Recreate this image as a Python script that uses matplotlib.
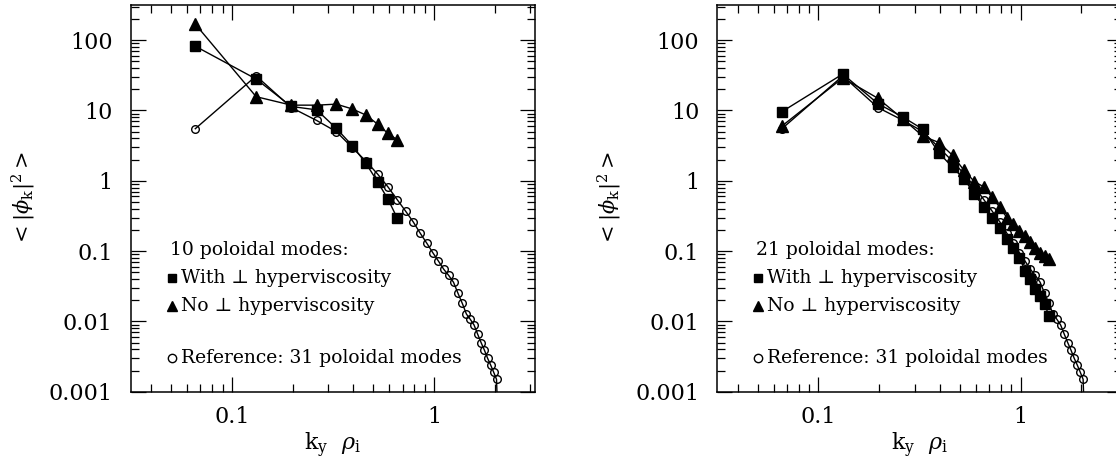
import matplotlib
matplotlib.use("Agg")
import matplotlib.pyplot as plt
from matplotlib.ticker import FixedLocator, FixedFormatter, LogLocator, NullFormatter

plt.rcParams["font.family"] = ["DejaVu Serif", "DejaVu Sans"]
plt.rcParams["mathtext.fontset"] = "dejavuserif"

# Poloidal wavenumbers k_y rho_i (mode numbers 1..32; the last one falls below the axis)
ky = [0.066, 0.132, 0.197, 0.263, 0.329, 0.395, 0.461, 0.526, 0.592, 0.658,
      0.724, 0.790, 0.855, 0.921, 0.987, 1.053, 1.119, 1.184, 1.250, 1.316,
      1.382, 1.448, 1.513, 1.579, 1.645, 1.711, 1.777, 1.842, 1.908, 1.974,
      2.040, 2.106]

# Reference run: 31 poloidal modes
phi_ref = [5.5, 31.0, 11.0, 7.2, 5.0, 2.95, 1.9, 1.25, 0.82, 0.54,
           0.37, 0.26, 0.18, 0.13, 0.095, 0.072, 0.055, 0.045, 0.036, 0.025,
           0.018, 0.0127, 0.0107, 0.0089, 0.0066, 0.0050, 0.0039, 0.0030, 0.0024, 0.0019,
           0.0015, 0.0001]

# 10 poloidal modes
phi10_hyper = [82.0, 28.0, 11.4, 10.2, 5.56, 3.15, 1.77, 0.97, 0.55, 0.295]
phi10_nohyper = [169.0, 15.7, 11.9, 11.9, 12.3, 10.5, 8.6, 6.4, 4.72, 3.83]

# 21 poloidal modes
phi21_hyper = [9.6, 33.0, 12.5, 8.0, 5.4, 2.5, 1.55, 1.06, 0.65, 0.42,
               0.30, 0.21, 0.15, 0.109, 0.081, 0.0525, 0.040, 0.029, 0.023, 0.0176,
               0.012]
phi21_nohyper = [6.0, 29.0, 14.9, 7.5, 4.3, 3.5, 2.3, 1.4, 0.97, 0.82,
                 0.58, 0.42, 0.30, 0.242, 0.194, 0.162, 0.133, 0.109, 0.094, 0.086,
                 0.077]

ytick_vals = [0.001, 0.01, 0.1, 1, 10, 100]
ytick_labels = ["0.001", "0.01", "0.1", "1", "10", "100"]
xtick_vals = [0.1, 1]
xtick_labels = ["0.1", "1"]

panels = [
    ("10 poloidal modes:", phi10_hyper, phi10_nohyper),
    ("21 poloidal modes:", phi21_hyper, phi21_nohyper),
]

W, H = 1116, 465
fig = plt.figure(figsize=(W / 100, H / 100), dpi=100)

ax_w = 404.3 / W
ax_h = 386.7 / H
ax_y0 = (H - 391.7) / H
lefts = [130.7 / W, 717.3 / W]

for (title, hyper, nohyper), x0 in zip(panels, lefts):
    ax = fig.add_axes([x0, ax_y0, ax_w, ax_h])
    ax.set_xscale("log")
    ax.set_yscale("log")
    ax.set_xlim(10 ** -1.5, 10 ** 0.5)
    ax.set_ylim(1e-3, 10 ** 2.5)

    n = len(hyper)
    ax.plot(ky, phi_ref, color="black", lw=1.0, marker="o", ms=5.5,
            mfc="none", mec="black", mew=1.0, zorder=2)
    ax.plot(ky[:n], nohyper, color="black", lw=1.0, marker="^", ms=8.0,
            mfc="black", mec="black", zorder=3)
    ax.plot(ky[:n], hyper, color="black", lw=1.0, marker="s", ms=7.0,
            mfc="black", mec="black", zorder=4)

    ax.xaxis.set_major_locator(FixedLocator(xtick_vals))
    ax.xaxis.set_major_formatter(FixedFormatter(xtick_labels))
    ax.xaxis.set_minor_locator(LogLocator(base=10, subs=range(2, 10)))
    ax.xaxis.set_minor_formatter(NullFormatter())
    ax.yaxis.set_major_locator(FixedLocator(ytick_vals))
    ax.yaxis.set_major_formatter(FixedFormatter(ytick_labels))
    ax.yaxis.set_minor_locator(LogLocator(base=10, subs=range(2, 10)))
    ax.yaxis.set_minor_formatter(NullFormatter())

    ax.tick_params(which="both", direction="in", top=True, right=True,
                   width=0.9, colors="black", labelsize=16)
    ax.tick_params(which="major", length=10.5)
    ax.tick_params(which="minor", length=5.5)
    ax.tick_params(axis="y", which="major", pad=13)
    ax.tick_params(axis="x", which="major", pad=10)
    for sp in ax.spines.values():
        sp.set_linewidth(1.1)

    ax.set_xlabel(r"$\mathrm{k_y}\ \ \rho_{\mathrm{i}}$", fontsize=16)
    ax.xaxis.set_label_coords(0.5, -0.138)
    ax.xaxis.label.set_va("center")
    ax.set_ylabel(r"$<|\phi_{\mathrm{k}}|^2>$", fontsize=15)
    ax.yaxis.set_label_coords(-0.265, 0.5)
    ax.yaxis.label.set_va("center")

    # Key drawn inside the panel
    fs = 13.5
    ax.text(0.096, 0.366, title, transform=ax.transAxes, fontsize=fs,
            ha="left", va="center")
    ax.plot([0.101], [0.294], transform=ax.transAxes, marker="s", ms=6,
            color="black", clip_on=False)
    ax.text(0.124, 0.294, "With \u22a5 hyperviscosity", transform=ax.transAxes,
            fontsize=fs, ha="left", va="center")
    ax.plot([0.101], [0.221], transform=ax.transAxes, marker="^", ms=7,
            color="black", clip_on=False)
    ax.text(0.124, 0.221, "No \u22a5 hyperviscosity", transform=ax.transAxes,
            fontsize=fs, ha="left", va="center")
    ax.plot([0.101], [0.087], transform=ax.transAxes, marker="o", ms=6,
            mfc="none", mec="black", mew=1.0, clip_on=False)
    ax.text(0.124, 0.087, "Reference: 31 poloidal modes", transform=ax.transAxes,
            fontsize=fs, ha="left", va="center")

fig.savefig("out.png", dpi=100)
